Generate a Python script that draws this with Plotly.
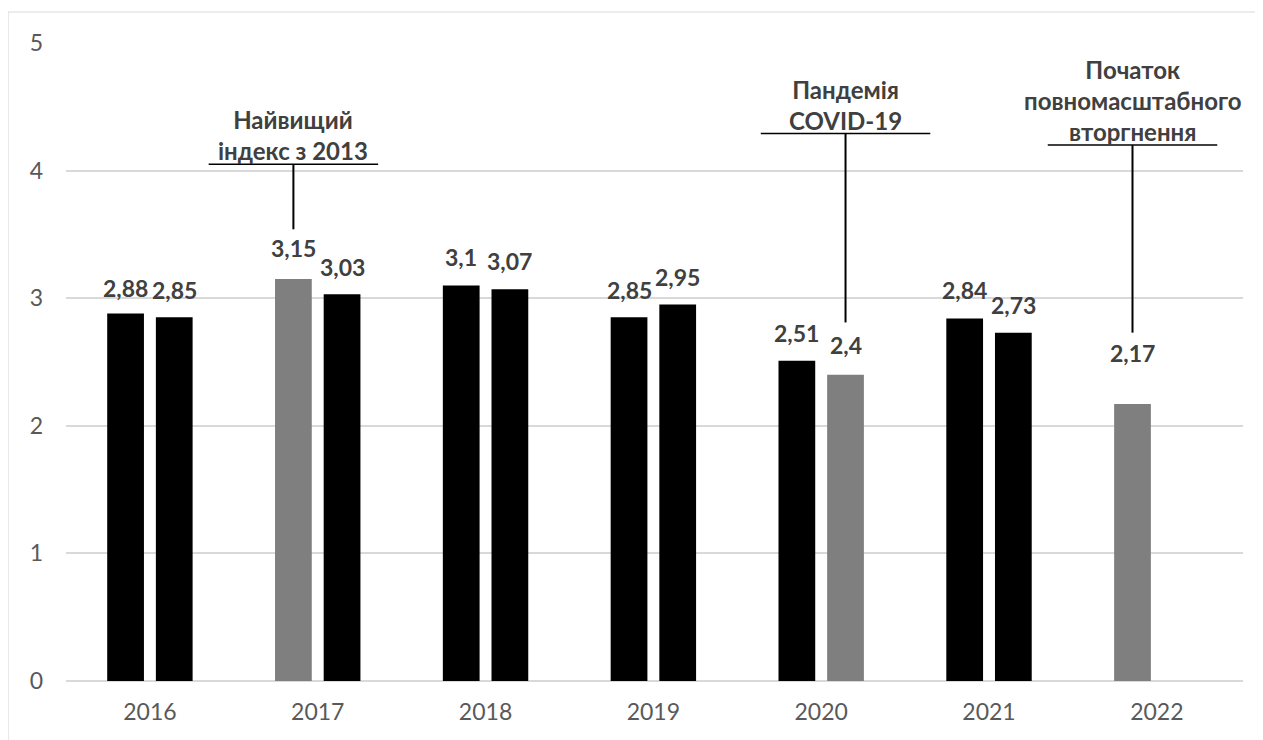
import plotly.graph_objects as go

# ---- data ----
years = ["2016", "2017", "2018", "2019", "2020", "2021", "2022"]
series_a = [2.88, 3.15, 3.10, 2.85, 2.51, 2.84, 2.17]
series_b = [2.85, 3.03, 3.07, 2.95, 2.40, 2.73, None]
highlight_a = [False, True, False, False, False, False, True]
highlight_b = [False, False, False, False, True, False, False]
y_ticks = [0, 1, 2, 3, 4, 5]

events = [
    dict(year="2017", slot=0, text="Найвищий<br>індекс з 2013", line_top=4.05, line_bottom=3.54),
    dict(year="2020", slot=1, text="Пандемія<br>COVID-19", line_top=4.29, line_bottom=2.81),
    dict(year="2022", slot=0, text="Початок<br>повномасштабного<br>вторгнення", line_top=4.20, line_bottom=2.73),
]

# ---- style ----
BLACK = "#000000"
GRAY = "#7f7f7f"
TEXT = "#404040"
TICK = "#595959"
GRID = "#d9d9d9"
FONT = "Lato, Noto Sans, sans-serif"
BARGAP = 0.42
OFFSET = (1 - BARGAP) / 4
label_lift_a = [26, 31, 28, 27, 28, 29, 51]
label_lift_b = [27, 27, 28, 28, 30, 28, 0]
PLOT_W, PLOT_H = 1177, 638


def fmt(v):
    return str(v).replace(".", ",")


fig = go.Figure()
fig.add_trace(go.Bar(x=years, y=series_a, name="a",
                     marker=dict(color=[GRAY if h else BLACK for h in highlight_a], line=dict(width=0))))
fig.add_trace(go.Bar(x=years, y=series_b, name="b",
                     marker=dict(color=[GRAY if h else BLACK for h in highlight_b], line=dict(width=0))))

annotations = []
for i, y in enumerate(years):
    for vals, lifts, sign in ((series_a, label_lift_a, -1), (series_b, label_lift_b, 1)):
        v = vals[i]
        if v is None:
            continue
        annotations.append(dict(x=i + sign * OFFSET, y=v, xref="x", yref="y", text=fmt(v),
                                showarrow=False, yanchor="middle", yshift=lifts[i],
                                font=dict(family=FONT, size=23, color=TEXT, weight="bold")))

shapes = []
for ev in events:
    i = years.index(ev["year"])
    xc = i + (-OFFSET if ev["slot"] == 0 else OFFSET)
    shapes.append(dict(type="line", xref="x", yref="y", x0=xc - 0.505, x1=xc + 0.505,
                       y0=ev["line_top"], y1=ev["line_top"], line=dict(color=BLACK, width=1.5)))
    shapes.append(dict(type="line", xref="x", yref="y", x0=xc, x1=xc,
                       y0=ev["line_top"], y1=ev["line_bottom"], line=dict(color=BLACK, width=2)))
    annotations.append(dict(x=xc, y=ev["line_top"], xref="x", yref="y", text=ev["text"],
                            showarrow=False, yanchor="bottom", yshift=-3,
                            font=dict(family=FONT, size=24, color=TEXT, weight="bold")))

# outer chart border
shapes.append(dict(type="rect", xref="paper", yref="paper", x0=-58 / PLOT_W, x1=1 + 80 / PLOT_W,
                   y0=-0.2, y1=1 + 31 / PLOT_H, line=dict(color="#d9d9d9", width=1.2), layer="below"))

fig.update_layout(
    width=1263, height=740,
    margin=dict(l=58, r=28, t=35, b=67),
    paper_bgcolor="white", plot_bgcolor="white",
    barmode="group", bargap=BARGAP, bargroupgap=0.245,
    showlegend=False,
    font=dict(family=FONT, size=22, color=TICK),
    annotations=annotations, shapes=shapes,
    xaxis=dict(showgrid=False, showline=False, ticks="", ticklabelstandoff=15,
               tickfont=dict(family=FONT, size=23, color=TICK)),
    yaxis=dict(range=[0, 5], tickvals=y_ticks, showgrid=True, gridcolor=GRID, gridwidth=1.5,
               zeroline=True, zerolinecolor=GRID, zerolinewidth=1.5, showline=False,
               ticks="", ticklabelstandoff=22, tickfont=dict(family=FONT, size=23, color=TICK)),
)

fig.write_html("out.html")
